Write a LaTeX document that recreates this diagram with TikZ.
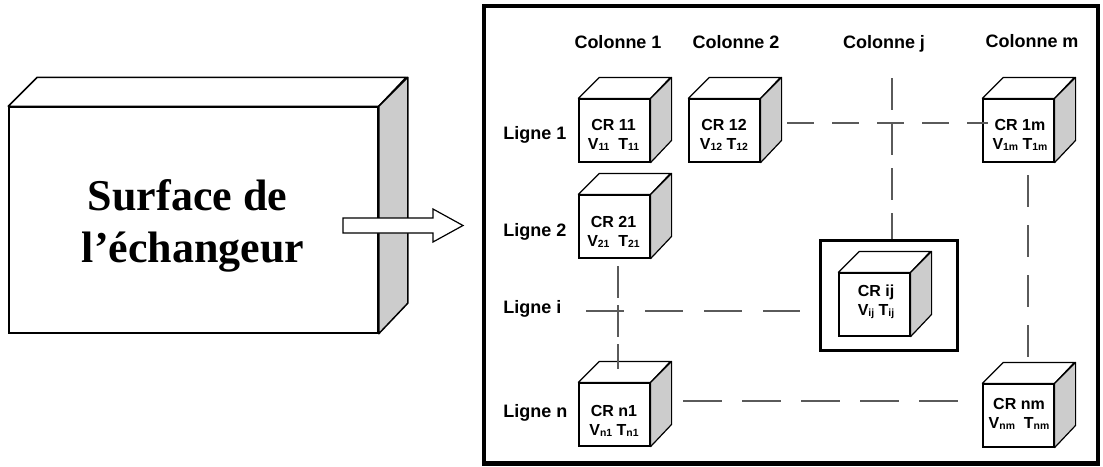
\documentclass[tikz,border=0pt]{standalone}
\usepackage{fontspec}
\setmainfont{Liberation Serif}
\setsansfont{Liberation Sans}
\definecolor{sidegray}{RGB}{204,204,204}
\definecolor{dashgray}{RGB}{90,90,90}
\newcommand\crsub[1]{\raisebox{-0.5pt}{\fontsize{5.2}{5.2}\selectfont #1}}
\newcommand\crcube[6]{%
  \node[cubefront] (#1) at (#2,#3) {};
  \draw[face] (#1.north west) -- ++(21,-21) -- ++(71,0) -- (#1.north east) -- cycle;
  \draw[sideface] (#1.north east) -- ++(21,-21) -- ++(0,63) -- (#1.south east) -- cycle;
  \node[cubetext] (#1t) at (#4,#5) {#6};
}
\begin{document}
\begin{tikzpicture}[x=0.5pt,y=-0.5pt,
  lbl/.style={font=\sffamily\bfseries\fontsize{9}{11}\selectfont, inner sep=0, anchor=base},
  lblw/.style={lbl, anchor=base west},
  cubefront/.style={draw, line width=0.6pt, fill=white, minimum width=35.5pt, minimum height=31.5pt, inner sep=0},
  cubetext/.style={font=\sffamily\bfseries\fontsize{8}{9.5}\selectfont, align=center, inner sep=0},
  face/.style={draw, line width=0.6pt, fill=white, line join=round},
  sideface/.style={face, fill=sidegray},
  bigface/.style={draw, line width=0.75pt, fill=white, line join=round},
  gridline/.style={draw=dashgray, line width=0.6pt},
]
\useasboundingbox (0,0) rectangle (1103,466);

% left block
\node[draw, line width=0.75pt, fill=white, minimum width=184.5pt, minimum height=113pt, inner sep=0] (surf) at (193.5,220) {};
\draw[bigface] (surf.north west) -- ++(29,-29) -- ++(369,0) -- (surf.north east) -- cycle;
\draw[bigface, fill=sidegray] (surf.north east) -- ++(29,-29) -- ++(0,226) -- (surf.south east) -- cycle;
\node[font=\rmfamily\bfseries\fontsize{22}{26}\selectfont, inner sep=0, anchor=base] (surfA) at (187.5,210) {Surface de};
\node[font=\rmfamily\bfseries\fontsize{22}{26}\selectfont, inner sep=0, anchor=base] (surfB) at (193,262) {l’échangeur};

% block arrow
\draw[line width=0.6pt, fill=white, line join=miter]
  (343,218) -- (433,218) -- (433,209) -- (463,225.5) -- (433,242) -- (433,233) -- (343,233) -- cycle;

% outer frame
\node[draw, line width=2.2pt, minimum width=307pt, minimum height=228.75pt, inner sep=0] (grid) at (791,234.75) {};

% column and row labels
\node[lbl] (col1) at (618,48) {Colonne 1};
\node[lbl] (col2) at (736,48) {Colonne 2};
\node[lbl] (colj) at (884,48) {Colonne j};
\node[lbl] (colm) at (1032,47) {Colonne m};
\node[lblw] (lig1) at (503,139) {Ligne 1};
\node[lblw] (lig2) at (503,236) {Ligne 2};
\node[lblw] (ligi) at (503,313) {Ligne i};
\node[lblw] (lign) at (503,417) {Ligne n};

% highlighted cell frame
\node[draw, line width=1.5pt, minimum width=68.5pt, minimum height=55pt, inner sep=0] (ijbox) at (888.5,295) {};

% cubes
\crcube{c11}{614.5}{130.5}{613.5}{135}{CR 11\\V\crsub{11}\ \ T\crsub{11}}
\crcube{c12}{724.5}{130.5}{724}{135}{CR 12\\V\crsub{12} T\crsub{12}}
\crcube{c1m}{1018.5}{130.5}{1020}{135}{CR 1m\\V\crsub{1m} T\crsub{1m}}
\crcube{c21}{614.5}{226.5}{613.5}{232}{CR 21\\V\crsub{21}\ \ T\crsub{21}}
\crcube{cn1}{614.5}{414.5}{614}{420.5}{CR n1\\V\crsub{n1} T\crsub{n1}}
\crcube{cnm}{1018.5}{415.5}{1019}{413.5}{CR nm\\V\crsub{nm}\ \ T\crsub{nm}}
\crcube{cij}{874.5}{304.5}{876}{302}{CR ij\\V\crsub{ij} T\crsub{ij}}

% dashed grid lines
\coordinate (r1s) at (787,123);
\coordinate (r1e) at (988,123);
\coordinate (cjs) at (892,78);
\coordinate (cms) at (1028,175);
\coordinate (cme) at (1028,357);
\coordinate (c1s) at (618,266);
\coordinate (c1e) at (618,369);
\coordinate (ris) at (586,311);
\coordinate (rie) at (800,311);
\coordinate (rns) at (683,401);
\coordinate (rne) at (963,401);
\draw[gridline, dash pattern=on 13.5pt off 9pt] (r1s) -- (r1e);
\draw[gridline, dash pattern=on 16pt off 6.5pt] (cjs) -- (cjs |- ijbox.north);
\draw[gridline, dash pattern=on 16pt off 9pt] (cms) -- (cme);
\draw[gridline, dash pattern=on 16pt off 3.5pt] (c1s) -- (c1e);
\draw[gridline, dash pattern=on 19pt off 10.5pt] (ris) -- (rie);
\draw[gridline, dash pattern=on 19.5pt off 10pt] (rns) -- (rne);
\end{tikzpicture}
\end{document}
